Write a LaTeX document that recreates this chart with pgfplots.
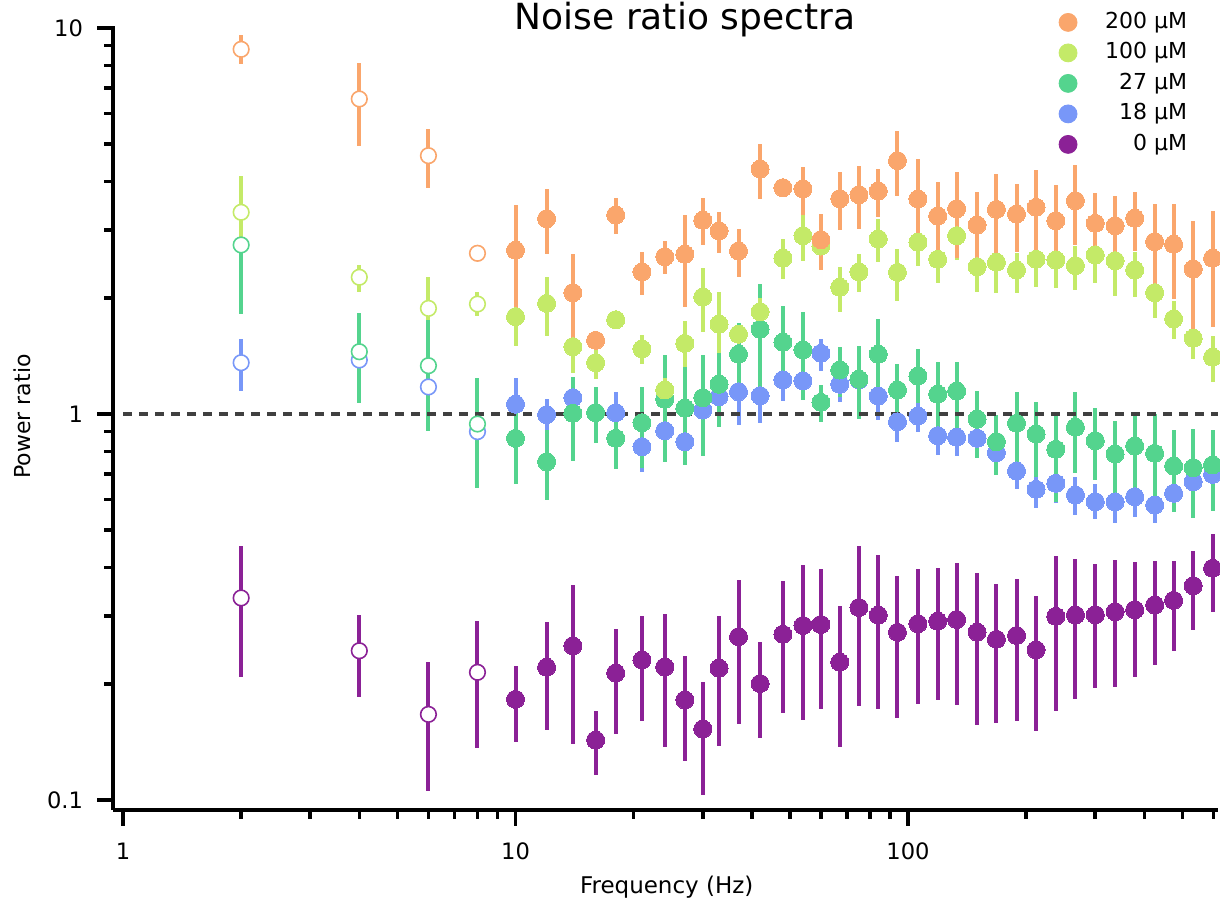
\documentclass[border=0pt]{standalone}
\usepackage{fontspec}
\setmainfont{DejaVu Sans}
\usepackage{pgfplots}
\usepackage{pgfplotstable}
\pgfplotsset{compat=1.18}

\definecolor{cOr}{RGB}{250,166,108}
\definecolor{cLi}{RGB}{196,234,104}
\definecolor{cGr}{RGB}{84,212,142}
\definecolor{cBl}{RGB}{120,151,248}
\definecolor{cPu}{RGB}{139,33,150}
\definecolor{cDash}{RGB}{64,64,64}

% 200 uM
\pgfplotstableread{
x y lo hi
2 8.806 8.054 9.592
4 6.548 4.956 8.130
6 4.669 3.858 5.465
8 2.608 2.608 2.608
}\tOrO
\pgfplotstableread{
x y lo hi
10 2.656 1.816 3.479
12 3.206 2.602 3.821
14 2.062 1.524 2.597
16 1.552 1.552 1.552
18 3.278 2.932 3.622
21 2.333 2.034 2.628
24 2.556 2.305 2.808
27 2.593 1.890 3.278
30 3.176 2.741 3.622
33 2.980 2.617 3.331
37 2.644 2.261 3.020
42 4.312 3.606 5.006
48 3.858 3.858 3.858
54 3.828 3.278 4.372
60 2.829 2.361 3.292
67 3.613 2.991 4.229
75 3.700 3.009 4.390
84 3.782 3.245 4.312
94 4.532 3.671 5.410
106 3.606 2.633 4.578
119 3.258 2.532 3.984
133 3.402 2.532 4.245
150 3.088 2.399 3.766
168 3.390 2.608 4.178
189 3.297 2.624 3.943
212 3.431 2.582 4.287
238 3.168 2.423 3.920
267 3.569 2.741 4.409
300 3.119 2.506 3.744
337 3.075 2.480 3.671
378 3.214 2.644 3.766
425 2.796 2.086 3.493
475 2.752 1.982 3.499
533 2.375 1.592 3.168
597 2.532 1.684 3.363
}\tOr
% 100 uM
\pgfplotstableread{
x y lo hi
2 3.331 2.741 4.137
4 2.261 2.074 2.432
6 1.878 1.752 2.264
8 1.927 1.797 2.071
}\tLiO
\pgfplotstableread{
x y lo hi
10 1.787 1.503 2.125
12 1.935 1.595 2.268
14 1.494 1.277 1.752
16 1.358 1.230 1.480
18 1.755 1.755 1.755
21 1.474 1.345 1.602
24 1.154 1.074 1.240
27 1.524 1.326 1.741
30 2.010 1.628 2.389
33 1.708 1.436 2.071
37 1.609 1.524 1.684
42 1.841 1.701 1.998
48 2.532 2.237 2.836
54 2.897 2.495 3.278
60 2.724 2.480 2.980
67 2.130 1.841 2.407
75 2.333 2.074 2.597
84 2.841 2.480 3.195
94 2.328 1.962 2.676
106 2.785 2.418 3.182
119 2.516 2.181 2.909
133 2.897 2.506 3.057
150 2.407 2.074 2.660
168 2.472 2.054 2.773
189 2.361 2.062 2.608
212 2.516 2.137 2.823
238 2.506 2.125 2.773
267 2.423 2.096 2.724
300 2.582 2.181 2.823
337 2.495 2.025 2.773
378 2.361 2.006 2.633
425 2.062 1.770 2.319
475 1.763 1.564 1.966
533 1.571 1.388 1.773
597 1.403 1.208 1.592
}\tLi
% 27 uM
\pgfplotstableread{
x y lo hi
2 2.741 1.816 3.656
4 1.450 1.070 1.823
6 1.334 0.9036 1.773
8 0.9421 0.6419 1.237
}\tGrO
\pgfplotstableread{
x y lo hi
10 0.865 0.660 1.066
12 0.752 0.5987 0.909
14 1.004 0.7555 1.249
16 1.008 0.8397 1.177
18 0.865 0.7205 1.004
21 0.9495 0.7236 1.173
24 1.092 0.752 1.422
27 1.035 0.7378 1.326
30 1.102 0.7798 1.422
33 1.194 0.9238 1.450
37 1.428 1.133 1.718
42 1.658 1.120 2.172
48 1.534 1.166 1.905
54 1.465 1.087 1.834
60 1.072 0.955 1.189
67 1.300 1.109 1.494
75 1.230 0.969 1.500
84 1.428 1.102 1.763
94 1.154 0.9747 1.348
106 1.254 1.066 1.471
119 1.125 0.877 1.366
133 1.147 0.909 1.366
150 0.9706 0.7678 1.149
168 0.8477 0.695 0.994
189 0.946 0.748 1.138
212 0.8875 0.6855 1.076
238 0.810 0.5927 1.004
267 0.9238 0.7046 1.142
300 0.8526 0.6746 1.035
337 0.7877 0.6168 0.9591
378 0.8262 0.6419 1.004
425 0.791 0.5752 1.000
475 0.7334 0.5564 0.909
533 0.726 0.5387 0.9145
597 0.7378 0.5608 0.909
}\tGr
% 18 uM
\pgfplotstableread{
x y lo hi
2 1.358 1.147 1.561
4 1.380 1.33 1.43
6 1.175 1.13 1.22
8 0.900 0.87 0.93
}\tBlO
\pgfplotstableread{
x y lo hi
10 1.060 0.909 1.242
12 0.996 0.909 1.094
14 1.102 0.994 1.240
16 1.008 0.95 1.07
18 1.008 0.9365 1.142
21 0.8228 0.7088 0.909
24 0.905 0.752 1.044
27 0.8477 0.7751 0.9271
30 1.024 0.8411 1.087
33 1.109 0.9271 1.203
37 1.142 0.9365 1.277
42 1.115 0.946 1.225
48 1.225 1.083 1.366
54 1.218 1.087 1.366
60 1.436 1.295 1.564
67 1.194 1.072 1.275
75 1.225 1.142 1.300
84 1.113 0.9648 1.225
94 0.955 0.8477 1.074
106 0.9881 0.8999 1.087
119 0.8787 0.783 0.988
133 0.8703 0.7808 0.977
150 0.865 0.7678 0.9648
168 0.7938 0.716 0.8822
189 0.7118 0.638 0.797
212 0.638 0.5698 0.716
238 0.6613 0.587 0.7466
267 0.6168 0.5475 0.6855
300 0.5927 0.5345 0.6573
337 0.5918 0.5209 0.6595
378 0.6105 0.54 0.6877
425 0.581 0.5229 0.6419
475 0.6231 0.5584 0.6877
533 0.6676 0.5987 0.751
597 0.6977 0.6354 0.783
}\tBl
% 0 uM
\pgfplotstableread{
x y lo hi
2 0.3338 0.2079 0.4560
4 0.2436 0.1852 0.3015
6 0.1667 0.1055 0.2282
8 0.2142 0.1366 0.2909
}\tPuO
\pgfplotstableread{
x y lo hi
10 0.1823 0.1416 0.2228
12 0.2208 0.1517 0.2897
14 0.2508 0.1397 0.3605
16 0.1430 0.1161 0.1701
18 0.2133 0.1485 0.2773
21 0.2305 0.1605 0.2994
24 0.2211 0.1372 0.3039
27 0.1816 0.1264 0.2365
30 0.1527 0.1029 0.2025
33 0.2195 0.1381 0.3003
37 0.2649 0.1573 0.3715
42 0.2003 0.1446 0.2559
48 0.2687 0.1683 0.3686
54 0.2832 0.1610 0.4063
60 0.2849 0.1720 0.3967
67 0.2275 0.1372 0.3181
75 0.3152 0.1755 0.4543
84 0.3012 0.1719 0.4304
94 0.2719 0.1633 0.3805
106 0.2862 0.1776 0.3960
119 0.2905 0.1814 0.3998
133 0.2935 0.1762 0.4111
150 0.2721 0.1567 0.3874
168 0.2608 0.1586 0.3634
189 0.2668 0.1599 0.3730
212 0.2449 0.1507 0.3383
238 0.2991 0.1705 0.4279
267 0.3015 0.1827 0.4218
300 0.3019 0.1949 0.4095
337 0.3075 0.1959 0.4185
378 0.3112 0.2083 0.4128
425 0.3200 0.2244 0.4168
475 0.3291 0.2427 0.4173
533 0.3590 0.2762 0.4417
597 0.3984 0.3064 0.4897
}\tPu

\pgfplotsset{
  ebar/.style={forget plot, only marks, mark=*, mark size=4.5pt, color=#1,
    mark options={draw=#1, fill=#1, line width=0pt},
    error bars/y dir=both, error bars/y explicit,
    error bars/error bar style={line width=2pt, color=#1},
    error bars/error mark=none},
  oebar/.style={ebar=#1, mark size=3.9pt,
    mark options={draw=#1, fill=white, line width=0.8pt}},
}

\begin{document}
\begin{tikzpicture}
\begin{axis}[
  scale only axis, width=552.5pt, height=392pt,
  xmode=log, ymode=log,
  xmin=0.943, xmax=616.4, ymin=0.09421, ymax=10.12,
  axis lines=left, axis line style={-, line width=1.8pt, black},
  tick align=outside,
  major tick length=8pt, minor tick length=4.5pt,
  every tick/.style={black, line width=1.8pt},
  xtick={1,10,100}, ytick={0.1,1,10},
  minor xtick={2,3,4,5,6,7,8,9,20,30,40,50,60,70,80,90,200,300,400,500,600},
  minor ytick={0.2,0.3,0.4,0.5,0.6,0.7,0.8,0.9,2,3,4,5,6,7,8,9},
  log ticks with fixed point,
  /pgf/number format/assume math mode=true,
  tick label style={font=\fontsize{11.3}{13}\selectfont},
  xticklabel style={yshift=-5pt},
  yticklabel style={xshift=-3.5pt},
  title={Noise ratio spectra},
  title style={at={(rel axis cs:0.5176,0.98)}, anchor=base, inner sep=0pt,
    font=\fontsize{18}{22}\selectfont},
  xlabel={Frequency (Hz)},
  xlabel style={at={(rel axis cs:0.5011,-0.10587)}, anchor=base, inner sep=0pt,
    font=\fontsize{11.5}{14}\selectfont},
  ylabel={Power ratio},
  ylabel style={at={(rel axis cs:-0.07511,0.5019)}, anchor=base, inner sep=0pt,
    font=\fontsize{11}{13}\selectfont},
  legend cell align=right,
  legend style={draw=none, fill=none, inner sep=0pt, outer sep=0pt,
    at={(rel axis cs:0.97195,1.0186)}, anchor=north east,
    column sep=14pt, row sep=4.25pt,
    nodes={inner sep=0pt, text height=8.5pt, text depth=2.5pt},
    font=\fontsize{11}{13}\selectfont},
]
\coordinate (O) at (rel axis cs:0,0);

\addlegendimage{only marks, mark=*, mark size=4.5pt, color=cOr}
\addlegendentry{200 µM}
\addlegendimage{only marks, mark=*, mark size=4.5pt, color=cLi}
\addlegendentry{100 µM}
\addlegendimage{only marks, mark=*, mark size=4.5pt, color=cGr}
\addlegendentry{27 µM}
\addlegendimage{only marks, mark=*, mark size=4.5pt, color=cBl}
\addlegendentry{18 µM}
\addlegendimage{only marks, mark=*, mark size=4.5pt, color=cPu}
\addlegendentry{0 µM}

\addplot[oebar=cPu] table[y error plus expr=\thisrow{hi}-\thisrow{y}, y error minus expr=\thisrow{y}-\thisrow{lo}] {\tPuO};
\addplot[ebar=cPu] table[y error plus expr=\thisrow{hi}-\thisrow{y}, y error minus expr=\thisrow{y}-\thisrow{lo}] {\tPu};
\addplot[oebar=cBl] table[y error plus expr=\thisrow{hi}-\thisrow{y}, y error minus expr=\thisrow{y}-\thisrow{lo}] {\tBlO};
\addplot[ebar=cBl] table[y error plus expr=\thisrow{hi}-\thisrow{y}, y error minus expr=\thisrow{y}-\thisrow{lo}] {\tBl};
\addplot[oebar=cGr] table[y error plus expr=\thisrow{hi}-\thisrow{y}, y error minus expr=\thisrow{y}-\thisrow{lo}] {\tGrO};
\addplot[ebar=cGr] table[y error plus expr=\thisrow{hi}-\thisrow{y}, y error minus expr=\thisrow{y}-\thisrow{lo}] {\tGr};
\addplot[oebar=cLi] table[y error plus expr=\thisrow{hi}-\thisrow{y}, y error minus expr=\thisrow{y}-\thisrow{lo}] {\tLiO};
\addplot[ebar=cLi] table[y error plus expr=\thisrow{hi}-\thisrow{y}, y error minus expr=\thisrow{y}-\thisrow{lo}] {\tLi};
\addplot[oebar=cOr] table[y error plus expr=\thisrow{hi}-\thisrow{y}, y error minus expr=\thisrow{y}-\thisrow{lo}] {\tOrO};
\addplot[ebar=cOr] table[y error plus expr=\thisrow{hi}-\thisrow{y}, y error minus expr=\thisrow{y}-\thisrow{lo}] {\tOr};

\addplot[forget plot, line width=1.7pt, color=cDash, dash pattern=on 4.7pt off 3.3pt] coordinates {(1,1) (616.4,1)};
\end{axis}
\pgfresetboundingbox
\path[use as bounding box] ([shift={(-56.5pt,-44.5pt)}]O) rectangle ([shift={(553.5pt,405pt)}]O);
\end{tikzpicture}
\end{document}
